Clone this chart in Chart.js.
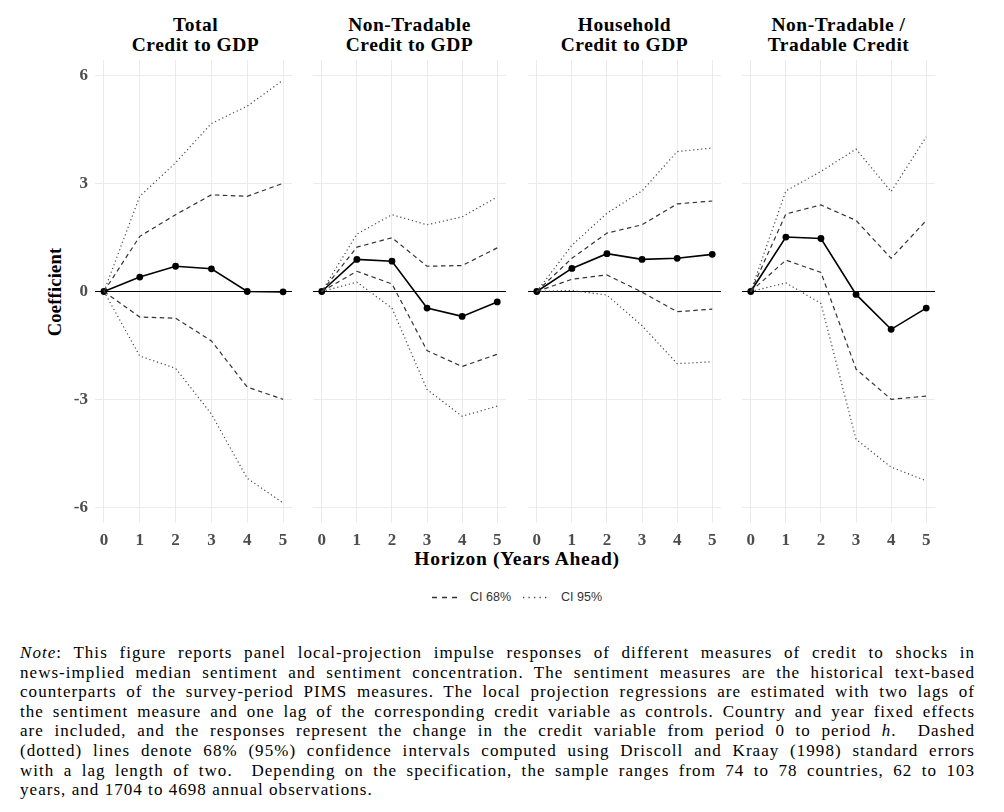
<!DOCTYPE html>
<html>
<head>
<meta charset="utf-8">
<script src="https://cdn.jsdelivr.net/npm/chart.js@4.4.1/dist/chart.umd.min.js"></script>
<style>
  html, body { margin: 0; padding: 0; background: #fff; }
  #root { position: relative; width: 1004px; height: 812px; background: #fff; overflow: hidden; }
  canvas { position: absolute; }
  .ptitle { position: absolute; top: 15px; width: 201px; text-align: center; font: bold 19.5px/20px "Liberation Serif", "Times New Roman", serif; letter-spacing: 0.5px; color: #000; }
  .axt { position: absolute; font: bold 19.5px/20px "Liberation Serif", "Times New Roman", serif; letter-spacing: 0.7px; color: #000; white-space: nowrap; }
  .leg { position: absolute; font: 12.5px/14px "Liberation Sans", Arial, sans-serif; color: #333; white-space: nowrap; }
  #note { position: absolute; left: 20px; top: 643px; width: 954px; font: 17px/19.6px "Liberation Serif", "Times New Roman", serif; color: #000; }
  #note .ln { display: block; white-space: pre; height: 19.6px; }
  #note .ln span.w { display: inline-block; white-space: pre; }
</style>
</head>
<body>
<div id="root">
  <div class="axt" id="xtitle" style="left:0; width:1034px; top:549px; text-align:center;">Horizon (Years Ahead)</div>
  <div class="axt" id="ytitle" style="left:55px; top:292px; letter-spacing:0.2px; font-size:18.5px; transform: translate(-50%,-50%) rotate(-90deg);">Coefficient</div>
  <svg style="position:absolute; left:0; top:0;" width="1004" height="812">
    <line x1="432" y1="597.5" x2="459" y2="597.5" stroke="#333" stroke-width="1.3" stroke-dasharray="5,5"/>
    <line x1="523" y1="597.5" x2="547" y2="597.5" stroke="#444" stroke-width="1.3" stroke-dasharray="1.3,4.2"/>
  </svg>
  <div class="leg" id="leg68" style="left:470px; top:590px;"></div>
  <div class="leg" id="leg95" style="left:561px; top:590px;"></div>
  <div id="note"></div>
</div>
<script>
// ---- data ----
const horizons = [0, 1, 2, 3, 4, 5];
const yTickValues = [-6, -3, 0, 3, 6];
const panelTitles = [["Total", "Credit to GDP"], ["Non-Tradable", "Credit to GDP"], ["Household", "Credit to GDP"], ["Non-Tradable /", "Tradable Credit"]];
const legendLabels = ["CI 68%", "CI 95%"];

const totalEst  = [0, 0.40, 0.70, 0.63, 0.00, -0.01];
const totalHi68 = [0, 1.53, 2.13, 2.68, 2.64, 3.00];
const totalLo68 = [0, -0.71, -0.74, -1.37, -2.65, -2.99];
const totalHi95 = [0, 2.64, 3.57, 4.66, 5.14, 5.86];
const totalLo95 = [0, -1.79, -2.13, -3.40, -5.18, -5.86];

const nontradEst  = [0, 0.89, 0.84, -0.46, -0.69, -0.29];
const nontradHi68 = [0, 1.23, 1.49, 0.70, 0.72, 1.21];
const nontradLo68 = [0, 0.56, 0.21, -1.64, -2.08, -1.74];
const nontradHi95 = [0, 1.59, 2.13, 1.85, 2.07, 2.62];
const nontradLo95 = [0, 0.26, -0.46, -2.72, -3.46, -3.18];

const householdEst  = [0, 0.64, 1.05, 0.89, 0.92, 1.03];
const householdHi68 = [0, 0.92, 1.62, 1.85, 2.43, 2.51];
const householdLo68 = [0, 0.34, 0.46, -0.02, -0.56, -0.49];
const householdHi95 = [0, 1.28, 2.17, 2.79, 3.88, 3.98];
const householdLo95 = [0, 0.03, -0.10, -0.95, -2.00, -1.95];

const ratioEst  = [0, 1.51, 1.47, -0.08, -1.05, -0.46];
const ratioHi68 = [0, 2.15, 2.40, 1.97, 0.92, 1.97];
const ratioLo68 = [0, 0.87, 0.53, -2.15, -2.99, -2.90];
const ratioHi95 = [0, 2.79, 3.33, 3.95, 2.77, 4.29];
const ratioLo95 = [0, 0.24, -0.33, -4.10, -4.87, -5.25];

const noteLines = [
  "<i>Note</i>: This figure reports panel local-projection impulse responses of different measures of credit to shocks in",
  "news-implied median sentiment and sentiment concentration. The sentiment measures are the historical text-based",
  "counterparts of the survey-period PIMS measures. The local projection regressions are estimated with two lags of",
  "the sentiment measure and one lag of the corresponding credit variable as controls. Country and year fixed effects",
  "are included, and the responses represent the change in the credit variable from period 0 to period <i>h</i>.  Dashed",
  "(dotted) lines denote 68% (95%) confidence intervals computed using Driscoll and Kraay (1998) standard errors",
  "with a lag length of two.  Depending on the specification, the sample ranges from 74 to 78 countries, 62 to 103",
  "years, and 1704 to 4698 annual observations."
];

// ---- layout ----
const panels = [
  { est: totalEst, hi68: totalHi68, lo68: totalLo68, hi95: totalHi95, lo95: totalLo95 },
  { est: nontradEst, hi68: nontradHi68, lo68: nontradLo68, hi95: nontradHi95, lo95: nontradLo95 },
  { est: householdEst, hi68: householdHi68, lo68: householdLo68, hi95: householdHi95, lo95: householdLo95 },
  { est: ratioEst, hi68: ratioHi68, lo68: ratioLo68, hi95: ratioHi95, lo95: ratioLo95 }
];
const panelLeft = [95, 309, 524, 738];
const plotW = 201, plotTop = 60, plotH = 463, xAxisH = 32, padTop = 10, yAxisW = 60;

const root = document.getElementById('root');
const serif = '"Liberation Serif", "Times New Roman", serif';
document.getElementById('leg68').textContent = legendLabels[0];
document.getElementById('leg95').textContent = legendLabels[1];

function pts(arr) { return horizons.map((h, i) => ({ x: h, y: arr[i] })); }

panels.forEach((p, idx) => {
  const t = document.createElement('div');
  t.className = 'ptitle';
  t.style.left = panelLeft[idx] + 'px';
  t.innerHTML = panelTitles[idx].join('<br>');
  root.appendChild(t);

  const first = idx === 0;
  const yw = first ? yAxisW : 0;
  const cv = document.createElement('canvas');
  const W = plotW + yw, H = padTop + plotH + xAxisH;
  cv.width = W; cv.height = H;
  cv.style.width = W + 'px'; cv.style.height = H + 'px';
  cv.style.left = (panelLeft[idx] - yw) + 'px';
  cv.style.top = (plotTop - padTop) + 'px';
  root.appendChild(cv);

  const ciLine = (data, dash, color) => ({
    data: pts(data), borderColor: color, borderWidth: 1.2, borderDash: dash,
    pointRadius: 0, fill: false, tension: 0
  });

  new Chart(cv, {
    type: 'line',
    data: {
      datasets: [
        ciLine(p.hi95, [1.2, 2.8], '#444'),
        ciLine(p.lo95, [1.2, 2.8], '#444'),
        ciLine(p.hi68, [4.5, 3.5], '#333'),
        ciLine(p.lo68, [4.5, 3.5], '#333'),
        { data: pts(p.est), borderColor: '#000', borderWidth: 1.6, pointRadius: 3.4,
          pointBackgroundColor: '#000', pointBorderColor: '#000', pointBorderWidth: 0, fill: false, tension: 0 }
      ]
    },
    options: {
      responsive: false,
      animation: false,
      devicePixelRatio: 1,
      layout: { padding: { top: padTop, left: 0, right: 0, bottom: 0 } },
      plugins: { legend: { display: false }, tooltip: { enabled: false }, title: { display: false } },
      scales: {
        x: {
          type: 'linear', min: -0.25, max: 5.25,
          afterBuildTicks: s => { s.ticks = horizons.map(v => ({ value: v })); },
          afterFit: s => { s.height = xAxisH; s.paddingLeft = 0; s.paddingRight = 0; },
          grid: { color: '#ebebeb', lineWidth: 1, drawTicks: false },
          border: { display: false },
          ticks: { padding: 7, color: '#4d4d4d', font: { family: serif, size: 17, weight: 'bold' }, maxRotation: 0, callback: v => String(v) }
        },
        y: {
          type: 'linear', min: -6.42, max: 6.42,
          afterBuildTicks: s => { s.ticks = yTickValues.map(v => ({ value: v })); },
          afterFit: s => { s.width = yw; s.paddingTop = 0; s.paddingBottom = 0; },
          grid: { color: c => (c.tick && c.tick.value === 0) ? '#000' : '#ebebeb', lineWidth: c => (c.tick && c.tick.value === 0) ? 1.1 : 1, drawTicks: false },
          border: { display: false },
          ticks: { display: first, padding: 7, color: '#4d4d4d', font: { family: serif, size: 17, weight: 'bold' }, callback: v => String(v) }
        }
      }
    }
  });
});

// ---- note, justified line by line ----
const note = document.getElementById('note');
const target = 954;
const spans = noteLines.map(txt => {
  const ln = document.createElement('div');
  ln.className = 'ln';
  const sp = document.createElement('span');
  sp.className = 'w';
  sp.innerHTML = txt;
  ln.appendChild(sp);
  note.appendChild(ln);
  return sp;
});
let lsSum = 0, lsCount = 0;
spans.slice(0, -1).forEach(sp => {
  const w = sp.getBoundingClientRect().width;
  const n = sp.textContent.length;
  lsSum += 0.6 * (target - w) / n; lsCount++;
});
const ls = lsSum / lsCount;
spans.forEach(sp => { sp.style.letterSpacing = ls + 'px'; });
spans.slice(0, -1).forEach(sp => {
  const w = sp.getBoundingClientRect().width - ls;
  const spaces = (sp.textContent.match(/ /g) || []).length;
  if (spaces > 0) sp.style.wordSpacing = ((target - w) / spaces) + 'px';
});
</script>
</body>
</html>
